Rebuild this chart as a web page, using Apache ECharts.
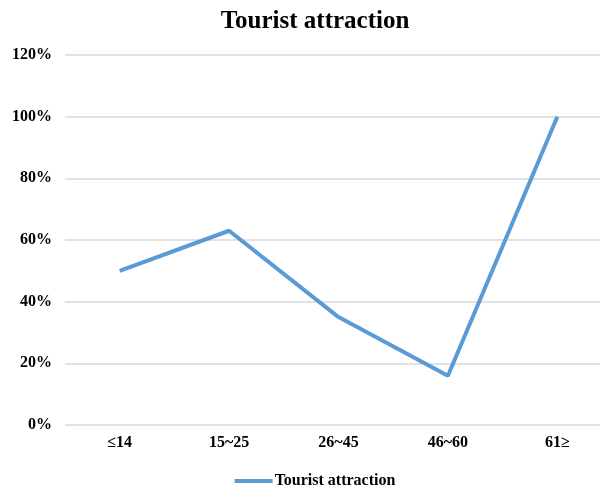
<!DOCTYPE html>
<html>
<head>
<meta charset="utf-8">
<script src="https://cdn.jsdelivr.net/npm/echarts@6/dist/echarts.min.js"></script>
<style>
  html, body { margin: 0; padding: 0; background: #fff; overflow: hidden; }
  #wrap { width: 600px; height: 488px; overflow: hidden; }
  #chart { width: 630px; height: 488px; }
</style>
</head>
<body>
<div id="wrap"><div id="chart"></div></div>
<script>
// Age groups and the share of visitors citing tourist attractions
const ageGroups = ['≤14', '15~25', '26~45', '46~60', '61≥'];
const attractionShare = [50, 63, 35, 16, 100];
const seriesName = 'Tourist attraction';

const serif = '"Liberation Serif", "Times New Roman", serif';
const chart = echarts.init(document.getElementById('chart'));

chart.setOption({
  backgroundColor: '#ffffff',
  animation: false,
  title: {
    text: 'Tourist attraction',
    left: 'center',
    top: 4,
    textStyle: { fontFamily: serif, fontSize: 25, fontWeight: 'bold', color: '#000' }
  },
  legend: {
    bottom: -6,
    left: 'center',
    itemWidth: 38,
    itemHeight: 4,
    icon: 'rect',
    textStyle: { fontFamily: serif, fontSize: 16, fontWeight: 'bold', color: '#000', padding: [0, 0, 0, -3] },
    data: [seriesName]
  },
  grid: { left: 65, top: 55, right: 18, bottom: 63, containLabel: false },
  xAxis: {
    type: 'category',
    data: ageGroups,
    boundaryGap: true,
    axisLine: { show: false },
    axisTick: { show: false },
    axisLabel: { fontFamily: serif, fontSize: 16, fontWeight: 'bold', color: '#000', margin: 10 }
  },
  yAxis: {
    type: 'value',
    min: 0,
    max: 120,
    interval: 20,
    axisLine: { show: false },
    axisTick: { show: false },
    splitLine: { lineStyle: { color: '#d9d9d9', width: 1.5 } },
    axisLabel: {
      formatter: '{value}%',
      fontFamily: serif, fontSize: 16, fontWeight: 'bold', color: '#000', margin: 13
    }
  },
  series: [{
    name: seriesName,
    type: 'line',
    data: attractionShare,
    symbol: 'none',
    lineStyle: { color: '#5b9bd5', width: 4 },
    itemStyle: { color: '#5b9bd5' }
  }]
});
</script>
</body>
</html>
